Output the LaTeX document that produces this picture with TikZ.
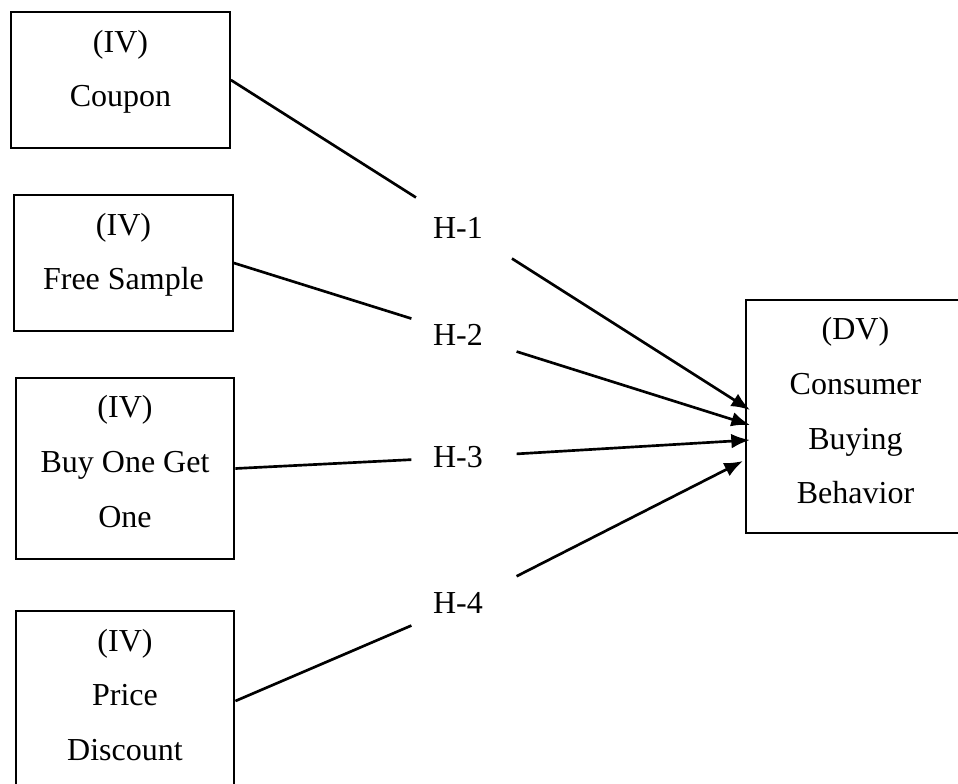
\documentclass[tikz,border=0pt]{standalone}
\usepackage{fontspec}
\setmainfont{Liberation Serif}
\usetikzlibrary{arrows.meta,positioning}

\begin{document}
\begin{tikzpicture}[x=0.375pt,y=-0.375pt,
  varbox/.style={draw,line width=0.8pt,minimum width=82pt,inner sep=0pt,align=center,font=\fontsize{12}{20.5}\selectfont},
  hyp/.style={inner xsep=7.9pt,inner ysep=0pt,minimum height=22.5pt,text width=23.25pt,align=left,font=\fontsize{12}{14}\selectfont},
  link/.style={line width=1pt},
  effect/.style={line width=1pt,-{Latex[length=7pt,width=5.5pt]}}]
\useasboundingbox (0,0) rectangle (958,783);
\clip (0,0) rectangle (958,783);

\node[varbox,text height=35.5pt,text depth=15.5pt] at (120.5,80) (coupon) {(IV)\\Coupon};
\node[varbox,text height=35.5pt,text depth=15.5pt] at (123.5,263) (sample) {(IV)\\Free Sample};
\node[varbox,text height=56pt,text depth=11.9pt] at (125,468.5) (bogo) {(IV)\\Buy One Get\\One};
\node[varbox,text height=56pt,text depth=11.5pt] at (125,701) (discount) {(IV)\\Price\\Discount};
\node[varbox,text height=76.5pt,text depth=10.9pt] at (855.5,416.5) (cbb) {(DV)\\Consumer\\Buying\\Behavior};

\node[hyp] at (464,228) (h1) {H-1};
\node[hyp] at (464,335) (h2) {H-2};
\node[hyp] at (464,457) (h3) {H-3};
\node[hyp] at (464,603) (h4) {H-4};

\coordinate (t1) at (750,410);
\coordinate (t2) at (750,425);
\coordinate (t3) at (750,440);
\coordinate (t4) at (743,461);

\draw[link] (coupon.east) -- (h1);
\draw[link] (sample.east) -- (h2);
\draw[link] (bogo.east) -- (h3);
\draw[link] (discount.east) -- (h4);

\draw[effect] (h1) -- (t1);
\draw[effect] (h2) -- (t2);
\draw[effect] (h3) -- (t3);
\draw[effect] (h4) -- (t4);
\end{tikzpicture}
\end{document}
